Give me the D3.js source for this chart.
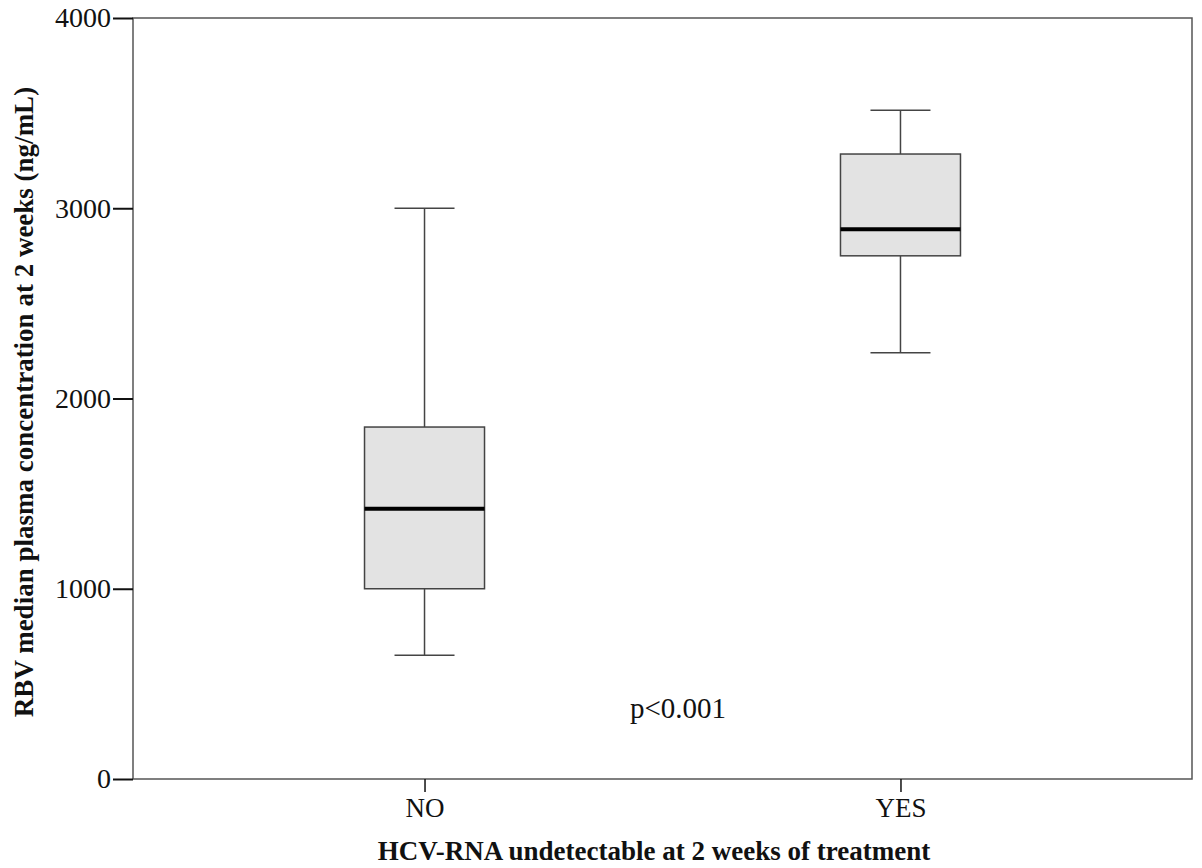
<!DOCTYPE html>
<html>
<head>
<meta charset="utf-8">
<script src="https://cdn.jsdelivr.net/npm/d3@7"></script>
<style>
html,body{margin:0;padding:0;background:#fff;}
svg{display:block;}
text{font-family:"Liberation Serif","Times New Roman",serif;fill:#111;}
</style>
</head>
<body>
<svg id="chart" width="1202" height="868"></svg>
<script>
const categories = ["NO", "YES"];
const whiskerLow = [650, 2240];
const q1 = [1000, 2750];
const median = [1420, 2890];
const q3 = [1850, 3285];
const whiskerHigh = [3000, 3515];
const yTicks = [0, 1000, 2000, 3000, 4000];
const yTitle = "RBV median plasma concentration at 2 weeks (ng/mL)";
const xTitle = "HCV-RNA undetectable at 2 weeks of treatment";
const annotation = "p<0.001";

const data = categories.map((c, i) => ({
  cat: c, lo: whiskerLow[i], q1: q1[i], med: median[i], q3: q3[i], hi: whiskerHigh[i]
}));

const svg = d3.select("#chart");
const L = 133, R = 1192, T = 18, B = 779;

const x = d3.scalePoint().domain(categories).range([L, R]).padding(0.6125);
const y = d3.scaleLinear().domain([0, 4000]).range([B, T]);

// frame
svg.append("rect").attr("x", L).attr("y", T).attr("width", R - L).attr("height", B - T)
  .attr("fill", "none").attr("stroke", "#555").attr("stroke-width", 1.5);

// y axis
const yAxis = svg.append("g").attr("transform", `translate(${L},0)`)
  .call(d3.axisLeft(y).tickValues(yTicks).tickSize(20).tickPadding(2).tickFormat(d3.format("d")));
yAxis.select(".domain").remove();
yAxis.selectAll(".tick line").attr("stroke", "#111").attr("stroke-width", 2);
yAxis.selectAll(".tick text").attr("font-size", 28).attr("font-family", "Liberation Serif").attr("fill", "#111").attr("dy", "0.32em");

// x axis
const xAxis = svg.append("g").attr("transform", `translate(0,${B})`)
  .call(d3.axisBottom(x).tickSize(13).tickPadding(6));
xAxis.select(".domain").remove();
xAxis.selectAll(".tick line").attr("stroke", "#111").attr("stroke-width", 1.5);
xAxis.selectAll(".tick text").attr("font-size", 27).attr("font-family", "Liberation Serif").attr("fill", "#111");

// boxes
const boxW = 120, capW = 60;
const g = svg.append("g").selectAll("g").data(data).join("g")
  .attr("transform", d => `translate(${x(d.cat)},0)`);

g.append("line").attr("x1", 0).attr("x2", 0)
  .attr("y1", d => y(d.hi)).attr("y2", d => y(d.q3))
  .attr("stroke", "#444").attr("stroke-width", 1.5);
g.append("line").attr("x1", 0).attr("x2", 0)
  .attr("y1", d => y(d.q1)).attr("y2", d => y(d.lo))
  .attr("stroke", "#444").attr("stroke-width", 1.5);
g.append("line").attr("x1", -capW / 2).attr("x2", capW / 2)
  .attr("y1", d => y(d.hi)).attr("y2", d => y(d.hi))
  .attr("stroke", "#444").attr("stroke-width", 1.5);
g.append("line").attr("x1", -capW / 2).attr("x2", capW / 2)
  .attr("y1", d => y(d.lo)).attr("y2", d => y(d.lo))
  .attr("stroke", "#444").attr("stroke-width", 1.5);
g.append("rect").attr("x", -boxW / 2).attr("width", boxW)
  .attr("y", d => y(d.q3)).attr("height", d => y(d.q1) - y(d.q3))
  .attr("fill", "#e3e3e3").attr("stroke", "#444").attr("stroke-width", 1.5);
g.append("line").attr("x1", -boxW / 2).attr("x2", boxW / 2)
  .attr("y1", d => y(d.med)).attr("y2", d => y(d.med))
  .attr("stroke", "#000").attr("stroke-width", 4);

// annotation
svg.append("text").attr("x", 678).attr("y", 718).attr("text-anchor", "middle")
  .attr("font-size", 29).text(annotation);

// titles
svg.append("text").attr("x", 654).attr("y", 860).attr("text-anchor", "middle")
  .attr("font-size", 27).attr("font-weight", "bold").text(xTitle);
svg.append("text").attr("transform", "translate(33,402) rotate(-90)")
  .attr("text-anchor", "middle").attr("font-size", 27).attr("font-weight", "bold").text(yTitle);
</script>
</body>
</html>
